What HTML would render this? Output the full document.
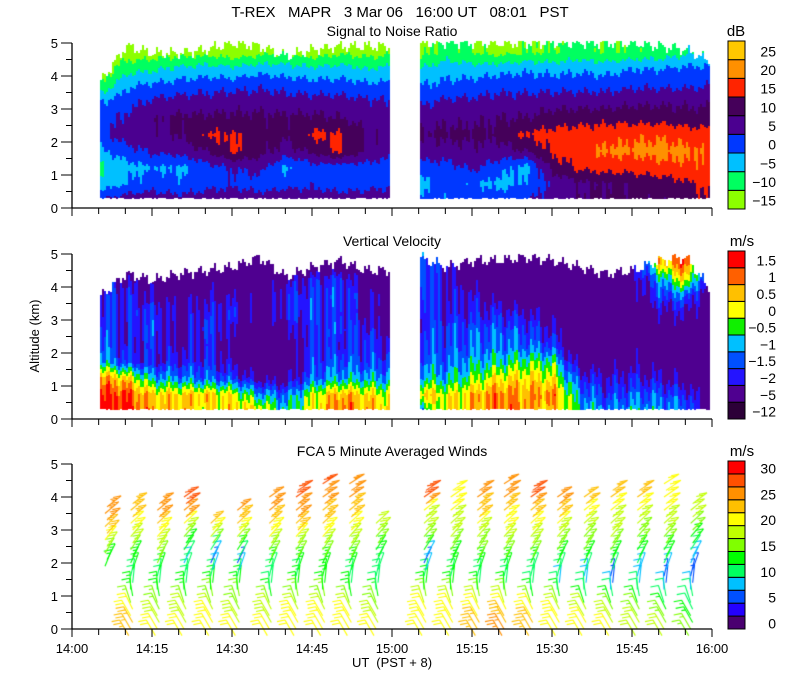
<!DOCTYPE html>
<html><head><meta charset="utf-8">
<style>
body{margin:0;background:#fff;}
#wrap{position:relative;width:800px;height:700px;overflow:hidden;background:#fff;}
canvas,svg{position:absolute;left:0;top:0;}
text{font-family:"Liberation Sans",sans-serif;fill:#000;}
</style></head>
<body>
<div id="wrap">
<canvas id="cv" width="800" height="700"></canvas>
<svg id="sv" width="800" height="700">
<text x="400" y="17" font-size="15" text-anchor="middle" xml:space="preserve">T-REX   MAPR   3 Mar 06   16:00 UT   08:01   PST</text>
<text x="392" y="36" font-size="14" text-anchor="middle">Signal to Noise Ratio</text>
<text x="392" y="246" font-size="14" text-anchor="middle">Vertical Velocity</text>
<text x="392" y="456" font-size="14" text-anchor="middle">FCA 5 Minute Averaged Winds</text>
<text x="0" y="0" font-size="13" text-anchor="middle" transform="translate(39,336) rotate(-90)">Altitude (km)</text>
<text x="392" y="667" font-size="13" text-anchor="middle" xml:space="preserve">UT  (PST + 8)</text>
<text x="736" y="36" font-size="15" text-anchor="middle">dB</text>
<text x="742" y="246" font-size="15" text-anchor="middle">m/s</text>
<text x="742" y="456" font-size="15" text-anchor="middle">m/s</text>
<g id="axes"></g>
</svg>
</div>
<script>
// ---------- data ----------
const levelsZ = [0.3,0.75,1.25,1.75,2.25,2.75,3.25,3.75,4.25,4.75];
const segTimes1 = [5,10,15,20,25,30,35,40,45,50,55,60];
const segTimes2 = [65,70,75,80,85,90,95,100,105,110,115,120];
const segRange1 = [5.25,59.4];
const segRange2 = [65.25,119.4];
const xTickLabels = ["14:00","14:15","14:30","14:45","15:00","15:15","15:30","15:45","16:00"];
const yTickLabels = ["0","1","2","3","4","5"];

const snrTop1 = [3.8,4.9,4.7,4.7,4.8,5,4.9,4.6,4.8,4.9,4.9,4.9];
const snrTop2 = [5,5,5,5,5,5,5,5,5,4.9,4.8,4.4];
const snr1 = [
 [4,-3,-6,-1,3,2,0,-10,-14,-14],
 [8,0,-2,3,8,6,3,-1,-7,-13],
 [8,3,0,6,9,9,6,1,-6,-13],
 [7,1,-1,7,10,11,7,2,-4,-12],
 [8,3,3,10,15.5,11,7,3,-3,-12],
 [9,4,5,16,15.5,11,8,3,-4,-13],
 [8,2,7,12,12,11,8,4,-2,-12],
 [9,3,-1,8,11,11,7,3,-3,-10],
 [8,4,3,11,16,11,7,2,-4,-13],
 [8,2,2,16,15.5,10,7,2,-3,-11],
 [8,3,3,9,10,8,6,1,-5,-12],
 [8,4,2,7,8,7,5,1,-4,-11]];
const snr2 = [
 [2,-2,3,8,10,8,4,0,-5,-12],
 [1,2,3,8,11,9,6,1,-2,-8],
 [3,1,6,9,11,9,6,2,-3,-10],
 [3,-2,2,8,11,10,7,3,-2,-12],
 [4,1,-2,10,16,10,7,3,-1,-10],
 [8,6,12,16,17,12,8,3,-2,-10],
 [10,9,16,18,17,13,8,3,-1,-8],
 [11,10,17,21,18,13,8,3,-2,-10],
 [11,11,17,21,19,13,9,4,0,-9],
 [11,12,18,22,19,13,9,4,0,-8],
 [12,14,19,21,18,12,9,4,1,-6],
 [16,17,19,19,17,12,9,5,1,-4]];

const velTop1 = [3.7,4.4,4.2,4.4,4.5,4.6,4.9,4.3,4.6,4.8,4.5,4.5];
const velTop2 = [4.9,4.6,4.8,4.8,4.9,4.8,4.6,4.4,4.5,4.8,4.9,3.8];
const vel1 = [
 [1.8,1.6,1.0,-0.7,-1.2,-1.3,-1.5,-1.5,-1.8,-3],
 [1.7,1.5,0.6,-1.5,-1.9,-2,-1.8,-1.7,-2.2,-3],
 [0.8,0.6,-0.8,-1.8,-1.7,-1.4,-1.6,-2.2,-2.5,-3],
 [0.7,0.6,-1,-1.8,-2.2,-2.5,-2.2,-2.5,-3,-3],
 [0.3,0.6,-1.2,-1.6,-1.8,-1.4,-1.8,-2.2,-2.5,-3],
 [0.6,0.3,-1.5,-2.2,-2.4,-2.2,-1.8,-2.2,-3,-3],
 [0.4,-0.8,-2.2,-3,-3,-3,-2.5,-2.5,-3,-3],
 [-0.7,-1.2,-2.4,-2.8,-2.8,-2.2,-1.8,-1.8,-2.2,-3],
 [0.3,0.1,-1.2,-1.5,-1.5,-1.6,-1.4,-1.5,-1.8,-3],
 [1.3,0.9,-0.8,-1.3,-1.7,-1.4,-1.6,-1.4,-1.6,-3],
 [0.8,0.5,-0.8,-1.5,-1.5,-1.8,-2.2,-2.2,-2.5,-3],
 [0.4,0.1,-1,-1.5,-2,-2.5,-2.5,-2.5,-3,-3]];
const vel2 = [
 [-0.8,0.8,-0.6,-1.1,-1.3,-1.6,-1.5,-1.2,-1,-1],
 [0.3,0.2,-0.8,-1.2,-1.5,-1.5,-1.8,-2,-2,-2],
 [0.6,0.7,-0.2,-0.8,-1.2,-1.4,-1.8,-2,-2.5,-3],
 [1.3,1.2,0.4,-0.6,-1.1,-1.3,-1.8,-2.5,-3,-3],
 [0.9,0.9,0.5,-0.3,-1.2,-1.5,-2,-3,-3,-3],
 [0.7,1.1,0.3,-0.4,-1.5,-2,-2.5,-3,-3,-3],
 [-0.6,-1,-1.6,-2.5,-3,-3,-3,-3,-3,-3],
 [-1.1,-1.6,-2,-2.6,-3,-3,-3,-3,-3,-3],
 [-0.8,-1.3,-1.8,-2.4,-2.6,-3,-3,-2.6,-2.4,-2.4],
 [-0.9,-1.3,-2,-2.5,-2.6,-2.6,-2.2,-1.5,-1,0.5],
 [-1.1,-1.6,-2.4,-2.8,-2.8,-2.6,-2,-1.2,0.5,1.5],
 [-3,-3,-3,-3,-3,-3,-3,-3,-3,-3]];

const windTimes = [6,11,16,21,26,31,37,42,47,52,57,66,71,76,81,86,91,96,101,106,111,116];
const windLevels = [0,0.5,1,1.5,2,2.5,3,3.5,4,4.5];
const windBase = [1.9,-0.2,-0.2,-0.2,-0.2,-0.2,-0.2,-0.2,-0.2,-0.2,-0.2,-0.2,-0.2,-0.2,-0.2,-0.2,-0.2,-0.2,-0.2,-0.2,-0.2,-0.2];
const windTop = [3.8,3.8,3.9,4.0,3.3,3.6,4.1,4.3,4.4,4.4,3.3,4.3,4.3,4.3,4.4,4.3,4.1,4.1,4.3,4.3,4.4,3.9];
const windSpeed = [
 [20,20,20,14,13,18,24,26,26,26],
 [23,22,14,12,13,17,20,24,25,25],
 [20,18,14,11,16,18,22,26,26,26],
 [20,19,14,12,9,14,18,27,29,29],
 [21,20,15,13,6,14,20,27,27,27],
 [20,18,15,12,7,16,22,25,28,28],
 [20,19,14,10,14,17,22,25,27,28],
 [21,20,15,12,14,17,23,26,28,28],
 [22,21,15,12,15,18,22,24,27,28],
 [22,20,14,11,15,17,21,24,25,25],
 [20,18,13,10,12,15,18,22,22,22],
 [22,21,16,12,6,16,18,20,29,29],
 [22,21,16,12,14,16,19,20,22,22],
 [24,22,15,9,15,17,19,24,25,25],
 [26,23,15,10,15,17,20,23,25,25],
 [24,22,14,9,14,17,20,24,28,28],
 [22,20,13,9,14,16,19,24,27,27],
 [22,19,12,8,13,16,18,22,24,24],
 [20,18,10,6,13,17,19,20,23,23],
 [19,17,12,8,11,15,17,20,24,24],
 [18,15,10,6,12,15,18,20,22,22],
 [15,12,10,5,8,12,16,18,20,20]];
const windDir = [-30,-30,-10,10,25,35,45,50,55,58];

// ---------- scales ----------
const X0=72, X1=712;
function xs(t){ return X0 + t*(X1-X0)/120; }
const PX = 33;
const base = [208, 419, 629];
function ys(p,z){ return base[p] - z*PX; }

const snrBounds=[-15,-10,-5,0,5,10,15,20,25];
const snrColors=["#8cff00","#00ff60","#00c0ff","#0038ff","#4b0090","#45005a","#ff2400","#ff9000","#ffc800"];
const velBounds=[-5,-2,-1.5,-1,-0.5,0,0.5,1,1.5];
const velColors=["#2c0038","#4f0090","#2414ff","#0050ff","#00c0ff","#10f000","#ffff00","#ffc000","#ff6000","#ff0000"];
const windColors=["#4a0070","#2400ff","#0050ff","#00c0ff","#00ff60","#00ff00","#80ff00","#c0ff00","#ffff00","#ffc000","#ff9000","#ff5000","#ff0000"];

function binColor(v,bounds,cols,offset){
  let i=0; while(i<bounds.length && v>=bounds[i]) i++;
  i=i-1+offset; if(i<0)i=0; if(i>=cols.length)i=cols.length-1; return cols[i];
}
function interp(times,vals,t,z){
  let i=0; while(i<times.length-2 && t>times[i+1]) i++;
  let ft=(t-times[i])/(times[i+1]-times[i]); ft=Math.max(0,Math.min(1,ft));
  let j=0; while(j<levelsZ.length-2 && z>levelsZ[j+1]) j++;
  let fz=(z-levelsZ[j])/(levelsZ[j+1]-levelsZ[j]); fz=Math.max(0,Math.min(1,fz));
  const a=vals[i][j]*(1-fz)+vals[i][j+1]*fz;
  const b=vals[i+1][j]*(1-fz)+vals[i+1][j+1]*fz;
  return a*(1-ft)+b*ft;
}
function interp1(times,arr,t){
  let i=0; while(i<times.length-2 && t>times[i+1]) i++;
  let ft=(t-times[i])/(times[i+1]-times[i]); ft=Math.max(0,Math.min(1,ft));
  return arr[i]*(1-ft)+arr[i+1]*ft;
}

const cv=document.getElementById('cv'); const ctx=cv.getContext('2d');

function drawField(p,times,vals,tops,range,colorFn,tex,zt){
  const xa=Math.round(xs(range[0])), xb=Math.round(xs(range[1]));
  for(let px=xa;px<xb;px+=2){
    const t=(px-X0)*120/(X1-X0);
    const top=interp1(times,tops,t)+0.12*Math.sin(px*0.45)+0.08*Math.sin(px*1.3);
    const ya=Math.round(ys(p,Math.min(top,5.05))), yb=Math.round(ys(p,0.3));
    for(let py=ya;py<yb;py+=2){
      const z=(base[p]-py)/PX;
      let v=interp(times,vals,t,z);
      v+=tex*(Math.sin(px*0.83+z*zt)*0.55+Math.sin(px*0.31-z*zt*0.6)*0.45);
      ctx.fillStyle=colorFn(v);
      ctx.fillRect(px,py,2,2);
    }
  }
}
const snrColor=v=>binColor(v,snrBounds,snrColors,0);
const velColor=v=>binColor(v,velBounds,velColors,1);
drawField(0,segTimes1,snr1,snrTop1,segRange1,snrColor,1.5,1.7);
drawField(0,segTimes2,snr2,snrTop2,segRange2,snrColor,1.5,1.7);
drawField(1,segTimes1,vel1,velTop1,segRange1,velColor,0.6,0.5);
drawField(1,segTimes2,vel2,velTop2,segRange2,velColor,0.6,0.5);

// wind barbs
ctx.lineWidth=1.1;
windTimes.forEach((t,c)=>{
  for(let z=windBase[c]; z<=windTop[c]+0.001; z+=0.2){
    const zc=Math.max(0,z);
    let j=Math.min(windLevels.length-2,Math.floor(zc/0.5));
    let f=(zc-windLevels[j])/0.5;
    const sp=windSpeed[c][j]*(1-f)+windSpeed[c][j+1]*f;
    const ang=(windDir[j]*(1-f)+windDir[j+1]*f)*Math.PI/180;
    const x0=xs(t)+((Math.round(z*10)*7)%4), y0=ys(2,z);
    const L=18;
    const dx=Math.sin(ang), dy=-Math.cos(ang);
    const x1=x0+L*dx, y1=y0+L*dy;
    ctx.strokeStyle=windColors[Math.max(0,Math.min(12,Math.floor(sp/2.5)))];
    ctx.beginPath(); ctx.moveTo(x0,y0); ctx.lineTo(x1,y1);
    let n=Math.round(sp/5), pos=0;
    while(n>0){
      const len = n>=2?8:4;
      const bx=x1-pos*dx, by=y1-pos*dy;
      ctx.moveTo(bx,by); ctx.lineTo(bx-len, by+len*0.2);
      n-= n>=2?2:1; pos+=3.5;
    }
    ctx.stroke();
  }
});

// ---------- axes via SVG ----------
const NS="http://www.w3.org/2000/svg";
const g=document.getElementById('axes');
function el(tag,attrs,parent){const e=document.createElementNS(NS,tag);for(const k in attrs)e.setAttribute(k,attrs[k]);(parent||g).appendChild(e);return e;}
for(let p=0;p<3;p++){
  const ax=el('g',{});
  
  
  el('line',{x1:X0,y1:ys(p,5),x2:X0,y2:base[p],stroke:'#000','stroke-width':1.3},ax);
  el('line',{x1:X0,y1:base[p],x2:X1,y2:base[p],stroke:'#000','stroke-width':1.3},ax);
  for(let i=0;i<=10;i++){
    const y=ys(p,i*0.5);
    el('line',{x1:X0-(i%2?6:11),y1:y,x2:X0,y2:y,stroke:'#000'},ax);
  }
  yTickLabels.forEach((lab,i)=>{
    const tx=el('text',{x:X0-14,y:ys(p,i)+5,'font-size':13,'text-anchor':'end'},ax);
    tx.textContent=lab;
    
    
  });
  for(let i=0;i<=24;i++){
    const x=xs(i*5);
    el('line',{x1:x,y1:base[p],x2:x,y2:base[p]+(i%3?6:8),stroke:'#000'},ax);
  }
  if(p===2){
    xTickLabels.forEach((lab,i)=>{
      const tx=el('text',{x:xs(i*15),y:653,'font-size':13,'text-anchor':'middle'},ax);
      tx.textContent=lab;
      
      
    });
  }
}
// colorbars
function colorbar(name,y0,y1,cols,labels,every){
  const cb=el('g',{});
  
  
  const n=cols.length, h=(y1-y0)/n;
  for(let i=0;i<n;i++){
    el('rect',{x:728,y:y1-(i+1)*h,width:17,height:h,fill:cols[i],stroke:'#000','stroke-width':1},cb);
  }
  labels.forEach((lab,k)=>{
    const i=k*every;
    const tx=el('text',{x:776,y:y1-(i+0.5)*h+6,'font-size':14,'text-anchor':'end'},cb);
    tx.textContent=lab;
    
    
  });
}
colorbar('snr-colorbar',41,209,snrColors,["−15","−10","−5","0","5","10","15","20","25"],1);
colorbar('velocity-colorbar',251,419,velColors,["−12","−5","−2","−1.5","−1","−0.5","0","0.5","1","1.5"],1);
colorbar('winds-colorbar',461,629,windColors,["0","5","10","15","20","25","30"],2);
</script>
</body></html>
